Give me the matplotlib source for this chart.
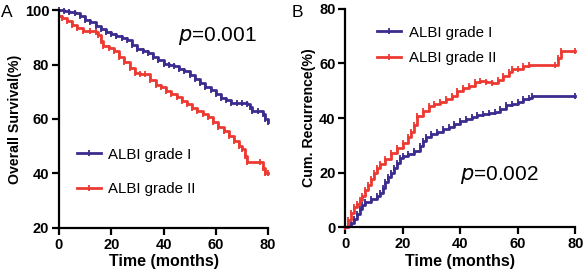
import matplotlib
matplotlib.use("Agg")
import matplotlib.pyplot as plt
from matplotlib.lines import Line2D

plt.rcParams['font.family'] = ['Liberation Sans', 'DejaVu Sans']

# Panel A: overall survival (%)
os_g1_t = [0, 2, 4, 6, 8, 10, 12, 14, 16, 18, 20, 22, 24, 26, 28, 30, 32, 34, 36, 38, 40, 42, 44,
           46, 48, 50, 52, 54, 56, 58, 60, 62, 64, 66, 68, 70, 72, 73, 74, 76, 78, 79, 80]
os_g1_s = [100, 99.8, 99.3, 98.8, 97.8, 96.5, 95.5, 94.3, 93.0, 92.0, 91.2, 90.6, 89.8, 89.0, 87.3,
           85.8, 85.0, 84.1, 82.8, 81.5, 80.3, 79.8, 79.3, 78.5, 77.6, 76.3, 74.8, 73.3, 71.8, 70.6,
           69.0, 67.8, 66.8, 66.0, 65.8, 65.8, 65.6, 64.5, 63.0, 62.8, 61.7, 60.0, 59.0]
os_g2_t = [0, 1, 3, 5, 7, 9, 12, 14, 15, 16, 17, 19, 21, 23, 25, 27, 29, 31, 33, 35, 37, 39, 41,
           43, 45, 47, 49, 51, 53, 55, 57, 59, 61, 63, 65, 67, 69, 70, 71, 72, 77, 78, 79, 80]
os_g2_s = [98, 97.2, 96, 94.6, 93.4, 92.5, 92.3, 92.0, 91.0, 88.5, 86.8, 86, 84.8, 82.6, 80.8,
           78.8, 77.0, 76.7, 76.4, 74.5, 72.5, 71.6, 70.4, 69.3, 68.0, 66.6, 65.4, 64.2, 63.0, 61.8,
           60.6, 58.8, 57.2, 55.6, 53.8, 51.8, 50.0, 48.8, 46.5, 44.3, 44.3, 42.0, 40.3, 40.0]

# Panel B: cumulative recurrence (%)
rec_g1_t = [0, 1, 2, 3, 4, 5, 6, 7, 9, 11, 12, 13, 14, 15, 16, 17, 18, 19, 20, 22, 24, 26, 27, 28,
            30, 32, 34, 36, 38, 40, 42, 44, 46, 48, 50, 52, 54, 56, 58, 60, 62, 64, 65, 80]
rec_g1_v = [0, 0.4, 1.5, 3, 4.8, 6.5, 8, 9.3, 10.2, 11.5, 12.5, 14.5, 16.5, 18.2, 19.8, 21.5, 23.5,
            25.2, 26, 26.8, 28, 29.8, 31.5, 33.2, 34, 35, 35.8, 36.8, 37.8, 38.8, 39.6, 40.4, 41,
            41.4, 41.8, 42.3, 43.3, 44.6, 45.3, 46, 46.8, 47.5, 48.1, 48.1]
rec_g2_t = [0, 1, 2, 3, 4, 5, 6, 7, 8, 9, 10, 11, 12, 14, 16, 18, 20, 22, 23, 24, 25, 27, 29, 31,
            33, 35, 37, 39, 41, 43, 45, 47, 49, 51, 53, 55, 57, 58, 60, 62, 64, 73, 74, 75, 80]
rec_g2_v = [0, 2.5, 5, 7.2, 8.4, 10, 11.5, 13.5, 15.5, 17.5, 19.8, 21.5, 23, 25, 27, 29, 31, 33,
            35, 37.5, 40.8, 42.5, 44.3, 45.3, 46, 47, 48, 49.8, 51, 51.8, 53.2, 53.5, 53.2, 53,
            54, 55.5, 56.8, 57.8, 58, 59, 59.4, 59.4, 62, 64.4, 64.4]

labels = ['ALBI grade I', 'ALBI grade II']
blue = '#3b2c8e'
red = '#ec3a32'

fig = plt.figure(figsize=(5.84, 2.8), dpi=100)
axA = fig.add_axes([0.101, 0.186, 0.358, 0.778])
axB = fig.add_axes([0.591, 0.189, 0.394, 0.779])


def style(ax):
    for s in ['top', 'right']:
        ax.spines[s].set_visible(False)
    for s in ['left', 'bottom']:
        ax.spines[s].set_linewidth(1.6)
    ax.tick_params(direction='out', length=5, width=1.6, labelsize=10.5, pad=2)
    for lab in ax.get_xticklabels() + ax.get_yticklabels():
        lab.set_fontweight('bold')


def km(ax, t, v, color):
    ax.plot(t, v, drawstyle='steps-post', color=color, lw=2.0, clip_on=False)
    ax.plot(t, v, ls='none', marker='|', ms=4, mew=1.3, color=color, clip_on=False)


km(axA, os_g1_t, os_g1_s, blue)
km(axA, os_g2_t, os_g2_s, red)
axA.set_xlim(0, 80)
axA.set_ylim(20, 100)
axA.set_xticks([0, 20, 40, 60, 80])
axA.set_yticks([20, 40, 60, 80, 100])
style(axA)
axA.set_xlabel('Time (months)', fontsize=11.5, fontweight='bold', labelpad=2)
axA.set_ylabel('Overall Survival(%)', fontsize=10.2, fontweight='bold', labelpad=2)
axA.text(0.57, 0.88, r'$\it{p}$=0.001', transform=axA.transAxes, fontsize=15, va='center')

km(axB, rec_g1_t, rec_g1_v, blue)
km(axB, rec_g2_t, rec_g2_v, red)
axB.set_xlim(0, 80)
axB.set_ylim(0, 80)
axB.set_xticks([0, 20, 40, 60, 80])
axB.set_yticks([0, 20, 40, 60, 80])
style(axB)
axB.set_xlabel('Time (months)', fontsize=11.5, fontweight='bold', labelpad=2)
axB.set_ylabel('Cum. Recurrence(%)', fontsize=10.2, fontweight='bold', labelpad=2)
axB.text(0.50, 0.24, r'$\it{p}$=0.002', transform=axB.transAxes, fontsize=15, va='center')

handles = [Line2D([], [], color=blue, lw=2.0, marker='|', ms=4, mew=1.3),
           Line2D([], [], color=red, lw=2.0, marker='|', ms=4, mew=1.3)]
axA.legend(handles, labels, loc='lower left', bbox_to_anchor=(0.02, 0.085), frameon=False,
           fontsize=10.8, handlelength=1.6, handletextpad=0.5, labelspacing=1.35)
axB.legend(handles, labels, loc='upper left', bbox_to_anchor=(0.08, 0.985), frameon=False,
           fontsize=10.8, handlelength=1.6, handletextpad=0.5, labelspacing=0.75)

fig.text(0.002, 0.955, 'A', fontsize=12.5, va='center')
fig.text(0.500, 0.955, 'B', fontsize=12.5, va='center')

fig.savefig('out.png', dpi=100)
